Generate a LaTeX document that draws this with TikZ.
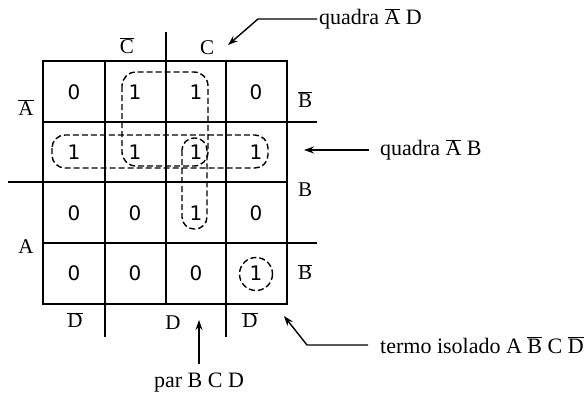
\documentclass[tikz,border=0pt]{standalone}
\usepackage{fontspec}
\setmainfont{Liberation Serif}
\newfontfamily\digitfont{DejaVu Sans}
\usetikzlibrary{arrows.meta}
\newcommand{\ovl}[1]{$\overline{\mbox{#1}}$}
\begin{document}
\begin{tikzpicture}[x=1pt,y=-1pt,
  gridline/.style={line width=1.5pt},
  loop/.style={line width=1.4pt, dash pattern=on 6pt off 3pt},
  val/.style={font=\digitfont\fontsize{20}{20}\selectfont, inner sep=0pt},
  lbl/.style={font=\fontsize{21}{21}\selectfont, inner sep=0pt},
  note/.style={font=\fontsize{22}{22}\selectfont, inner sep=0pt},
  pointer/.style={line width=1.4pt, -{Stealth[length=10pt,width=7pt]}}]
\useasboundingbox (0,0) rectangle (588,397);
% grid
\draw[gridline] (43,61) rectangle (287,304);
\foreach \x in {105,166,226} \draw[gridline] (\x,61) -- (\x,304);
\foreach \y in {122,182,243} \draw[gridline] (43,\y) -- (287,\y);
% outer ticks
\draw[gridline] (166,32) -- (166,61);
\draw[gridline] (8,182) -- (43,182);
\draw[gridline] (287,122) -- (317,122);
\draw[gridline] (287,243) -- (317,243);
\draw[gridline] (105,304) -- (105,337);
\draw[gridline] (226,304) -- (226,337);
% outer labels
\node[lbl] (cn) at (127,46) {\ovl{C}};
\node[lbl] (c) at (207,48) {C};
\node[lbl] (an) at (26,108) {\ovl{A}};
\node[lbl] (a) at (26,247) {A};
\node[lbl] (bn1) at (305,100) {\ovl{B}};
\node[lbl] (b) at (305,190) {B};
\node[lbl] (bn2) at (305,272) {\ovl{B}};
\node[lbl] (dn1) at (75,320) {\ovl{D}};
\node[lbl] (d) at (173,323) {D};
\node[lbl] (dn2) at (250,320) {\ovl{D}};
% values
\foreach \r/\y in {1/92,2/152,3/213,4/273}{
  \foreach \c/\x in {1/74,2/135,3/196,4/256}{
    \coordinate (m\r\c) at (\x,\y);
  }
}
\node[val] (v11) at (m11) {0};
\node[val] (v12) at (m12) {1};
\node[val] (v13) at (m13) {1};
\node[val] (v14) at (m14) {0};
\node[val] (v21) at (m21) {1};
\node[val] (v22) at (m22) {1};
\node[val] (v23) at (m23) {1};
\node[val] (v24) at (m24) {1};
\node[val] (v31) at (m31) {0};
\node[val] (v32) at (m32) {0};
\node[val] (v33) at (m33) {1};
\node[val] (v34) at (m34) {0};
\node[val] (v41) at (m41) {0};
\node[val] (v42) at (m42) {0};
\node[val] (v43) at (m43) {0};
\node[val] (v44) at (m44) {1};
% groupings
\draw[loop, rounded corners=14pt] (122,72) rectangle (208,166);
\draw[loop, rounded corners=13pt] (52,135) rectangle (268,168);
\draw[loop, rounded corners=12pt] (182,138) rectangle (207,229);
\draw[loop] (256,274) circle (16.5);
% annotations
\node[note, anchor=west] (tAD) at (319,19) {quadra \ovl{A} D};
\node[note, anchor=west] (tAB) at (380,150) {quadra \ovl{A} B};
\node[note, anchor=west] (tiso) at (380,345) {termo isolado A \ovl{B} C \ovl{D}};
\node[note] (tpar) at (199,383) {par B C D};
\coordinate (pAD) at (228,45);
\coordinate (pAB) at (304,150);
\coordinate (pIso) at (284,316);
\coordinate (pPar) at (199,320);
\draw[pointer] (tAD.west) ++(-2,0) -- (258,19) -- (pAD);
\draw[pointer] (tAB.west) ++(-11,0) -- (pAB);
\draw[pointer] (tiso.west) ++(-12,0) -- (307,345) -- (pIso);
\draw[pointer] (tpar.north) ++(0,-9) -- (pPar);
\end{tikzpicture}
\end{document}
